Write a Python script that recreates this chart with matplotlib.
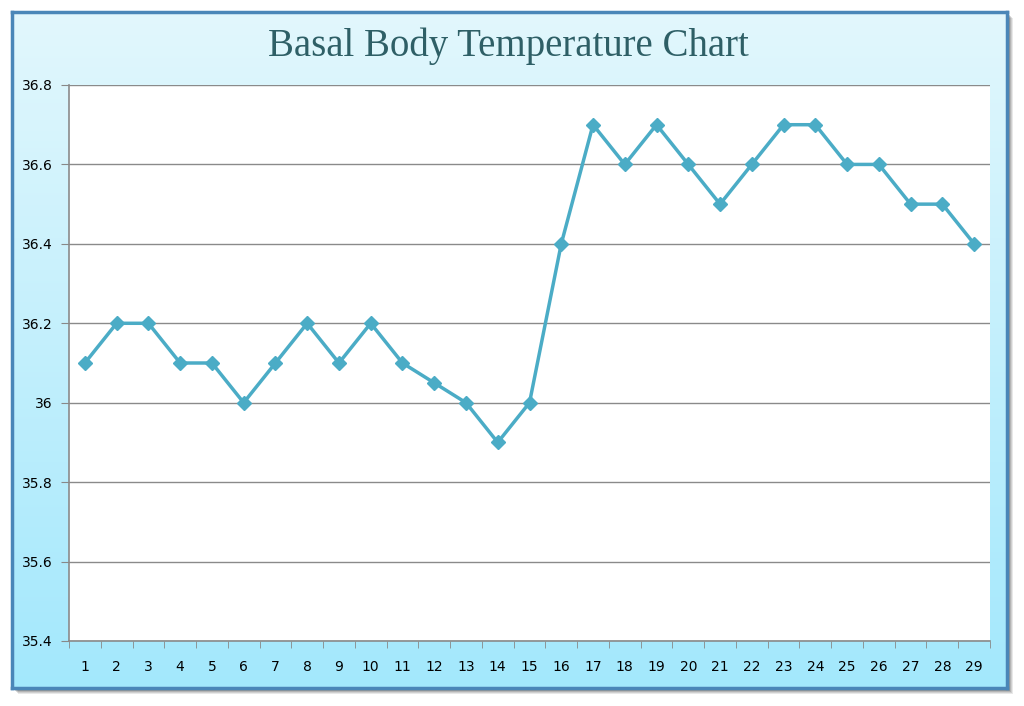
import numpy as np
import matplotlib
matplotlib.use('Agg')
from matplotlib import pyplot as plt
from matplotlib.patches import Rectangle

days = list(range(1, 30))
temps = [36.1, 36.2, 36.2, 36.1, 36.1, 36.0, 36.1, 36.2, 36.1, 36.2,
         36.1, 36.05, 36.0, 35.9, 36.0, 36.4, 36.7, 36.6, 36.7, 36.6,
         36.5, 36.6, 36.7, 36.7, 36.6, 36.6, 36.5, 36.5, 36.4]
y_ticks = [35.4, 35.6, 35.8, 36.0, 36.2, 36.4, 36.6, 36.8]
y_labels = ['35.4', '35.6', '35.8', '36', '36.2', '36.4', '36.6', '36.8']
title = "Basal Body Temperature Chart"

W, H = 1024, 706
fig = plt.figure(figsize=(W / 100, H / 100), dpi=100)
fig.patch.set_facecolor('white')

# outer frame: shadow, gradient fill, border (pixel coords -> figure fractions)
x0, y0, x1, y1 = 12, 12, 1007, 688
def fx(px):
    return px / W
def fy(py):
    return 1 - py / H

for i, a in enumerate([0.10, 0.12, 0.15, 0.2]):
    off = 6 - i
    fig.patches.append(Rectangle((fx(x0 + off), fy(y1 + off)), fx(x1 - x0), fy(y0) - fy(y1),
                                 transform=fig.transFigure, facecolor='#202020',
                                 edgecolor='none', alpha=a, zorder=0))

bg = fig.add_axes([fx(x0), fy(y1), fx(x1 - x0), fy(y0) - fy(y1)], zorder=1)
grad = np.linspace(0, 1, 256).reshape(-1, 1)
top_c = np.array([0xe2, 0xf7, 0xfd]) / 255
bot_c = np.array([0xa3, 0xe8, 0xfc]) / 255
img = top_c[None, None, :] * (1 - grad[:, :, None]) + bot_c[None, None, :] * grad[:, :, None]
bg.imshow(img, aspect='auto', extent=[0, 1, 0, 1])
bg.set_xticks([])
bg.set_yticks([])
for s in bg.spines.values():
    s.set_color('#4a86b8')
    s.set_linewidth(2.5)

fig.text(0.496, fy(46), title, ha='center', va='center', fontsize=28,
         color='#2e5f66', family='Liberation Serif', zorder=5)

ax = fig.add_axes([fx(69), fy(641), fx(990 - 69), fy(85) - fy(641)], zorder=2)
ax.set_facecolor('white')
ax.plot(days, temps, color='#4bacc6', linewidth=2.5, marker='D', markersize=7,
        markeredgecolor='#4bacc6', markerfacecolor='#4bacc6', zorder=3, clip_on=False)

ax.set_xlim(0.5, 29.5)
ax.set_ylim(35.4, 36.8)
ax.set_yticks(y_ticks)
ax.set_yticklabels(y_labels)
ax.set_xticks(days)
ax.set_xticks([d + 0.5 for d in range(0, 30)], minor=True)
ax.tick_params(axis='x', which='major', length=0, pad=14, labelsize=10)
ax.tick_params(axis='x', which='minor', length=5, color='#888888', direction='out')
ax.tick_params(axis='y', length=6, color='#888888', labelsize=10, pad=6)
ax.grid(axis='y', color='#8a8a8a', linewidth=1.0)
ax.set_axisbelow(True)
for side in ['top', 'right']:
    ax.spines[side].set_visible(False)
for side in ['left', 'bottom']:
    ax.spines[side].set_color('#8a8a8a')
    ax.spines[side].set_linewidth(1.2)

fig.savefig('out.png', dpi=100)
